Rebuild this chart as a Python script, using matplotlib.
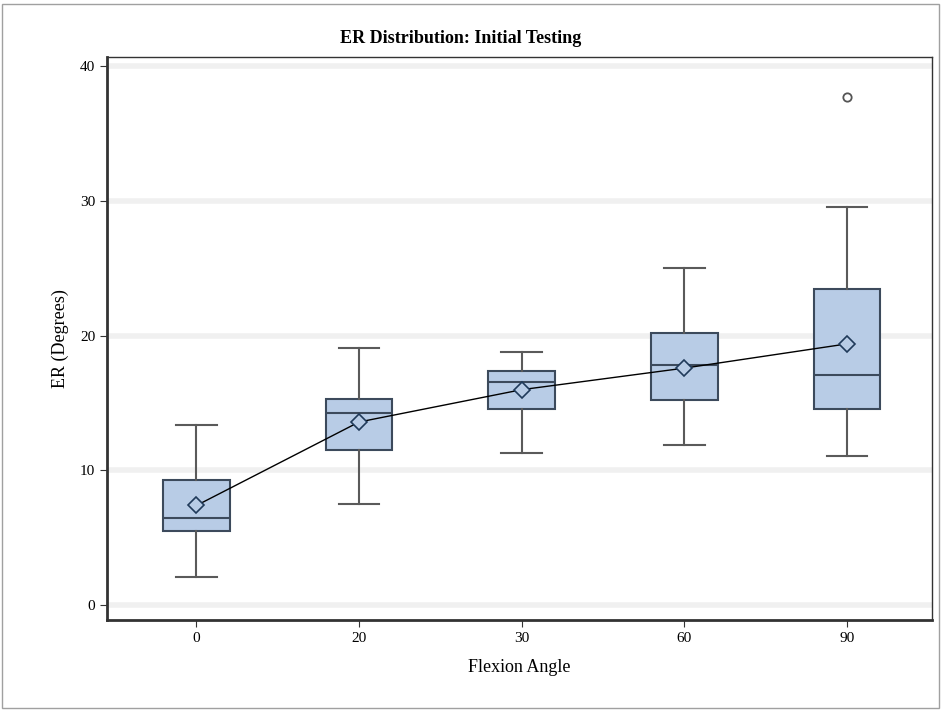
import numpy as np
import matplotlib.pyplot as plt
from matplotlib.patches import Rectangle

# Data
categories = ['0', '20', '30', '60', '90']
whisker_low = [2.1, 7.5, 11.3, 11.9, 11.1]
q1 = [5.5, 11.5, 14.6, 15.2, 14.6]
median = [6.5, 14.3, 16.6, 17.8, 17.1]
q3 = [9.3, 15.3, 17.4, 20.2, 23.5]
whisker_high = [13.4, 19.1, 18.8, 25.0, 29.6]
means = [7.4, 13.6, 16.0, 17.6, 19.4]
outliers = [[], [], [], [], [37.7]]

fig = plt.figure(figsize=(9.41, 7.1), dpi=100)
ax = fig.add_axes([0.1137, 0.1268, 0.8763, 0.7929])

stats = []
for i in range(len(categories)):
    stats.append({
        'whislo': whisker_low[i], 'q1': q1[i], 'med': median[i],
        'q3': q3[i], 'whishi': whisker_high[i], 'mean': means[i],
        'fliers': outliers[i], 'label': categories[i],
    })

pos = np.arange(len(categories))
serif = ['Liberation Serif', 'DejaVu Serif']

# faint gridlines
for v in [0, 10, 20, 30, 40]:
    ax.axhline(v, color='#f0f0f0', linewidth=4, zorder=0)

bp = ax.bxp(stats, positions=pos, widths=0.41, patch_artist=True,
            showmeans=False, showfliers=True,
            boxprops=dict(facecolor='#b8cce6', edgecolor='#3c4a5c', linewidth=1.5),
            medianprops=dict(color='#3c4a5c', linewidth=1.5),
            whiskerprops=dict(color='#5a5a5a', linewidth=1.5),
            capprops=dict(color='#5a5a5a', linewidth=1.5),
            capwidths=0.25,
            flierprops=dict(marker='o', markerfacecolor='none', markeredgecolor='#555555',
                            markersize=6, markeredgewidth=1.3))

# mean connect line and markers
ax.plot(pos, means, color='black', linewidth=1.0, zorder=4)
ax.plot(pos, means, linestyle='none', marker='D', markersize=8,
        markerfacecolor='#b8cce6', markeredgecolor='#1f3a5a', markeredgewidth=1.2, zorder=5)

ax.set_xlim(-0.55, 4.52)
ax.set_ylim(-1.1, 40.7)
ax.set_yticks([0, 10, 20, 30, 40])
ax.set_xticks(pos)
ax.set_xticklabels(categories)

for s in ax.spines.values():
    s.set_color('#333333')
    s.set_linewidth(1.0)
ax.spines['bottom'].set_linewidth(2)
ax.spines['left'].set_linewidth(2)

ax.tick_params(axis='both', labelsize=11, color='#333333', length=5)
for lab in ax.get_xticklabels() + ax.get_yticklabels():
    lab.set_family(serif)

ax.set_xlabel('Flexion Angle', fontsize=13, family=serif, labelpad=10)
ax.set_ylabel('ER (Degrees)', fontsize=13, family=serif, labelpad=8)
fig.text(0.49, 0.946, 'ER Distribution: Initial Testing', ha='center', va='center',
         fontsize=13, fontweight='bold', family=serif)

# outer frame of the image
fig.patches.append(Rectangle((0.002, 0.003), 0.996, 0.992, transform=fig.transFigure,
                             fill=False, edgecolor='#a0a0a0', linewidth=1))

plt.savefig('out.png', dpi=100)
